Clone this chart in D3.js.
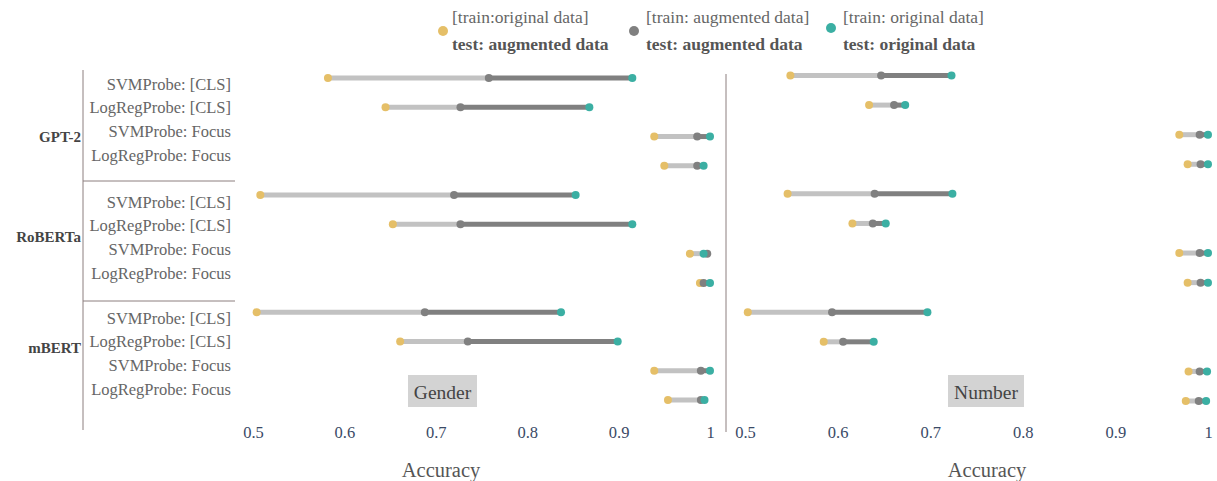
<!DOCTYPE html>
<html><head><meta charset="utf-8">
<script src="https://cdn.jsdelivr.net/npm/d3@7"></script>
<style>body{margin:0;background:#fff}svg{display:block;font-family:"Liberation Serif","Times New Roman",serif}</style>
</head><body><svg id="c" width="1217" height="481"></svg>
<script>
const models = ["GPT-2","RoBERTa","mBERT"];
const probes = ["SVMProbe: [CLS]","LogRegProbe: [CLS]","SVMProbe: Focus","LogRegProbe: Focus"];
const panels = ["Gender","Number"];
const xTicks = [0.5,0.6,0.7,0.8,0.9,1];
const legendTop = ["[train:original data]","[train: augmented data]","[train: original data]"];
const legendBottom = ["test: augmented data","test: augmented data","test: original data"];
// per row (GPT-2 x4, RoBERTa x4, mBERT x4)
const genderOrigAug = [0.582,0.645,0.939,0.950, 0.508,0.653,0.978,0.989, 0.504,0.661,0.939,0.954];
const genderAugAug  = [0.758,0.727,0.986,0.986, 0.720,0.727,0.997,0.993, 0.688,0.735,0.990,0.990];
const genderOrigOrig= [0.915,0.868,1.000,0.993, 0.853,0.915,0.993,1.000, 0.837,0.899,1.000,0.994];
const numberOrigAug = [0.549,0.634,0.969,0.978, 0.546,0.616,0.969,0.978, 0.503,0.585,0.979,0.976];
const numberAugAug  = [0.647,0.661,0.991,0.992, 0.640,0.638,0.991,0.992, 0.594,0.606,0.991,0.990];
const numberOrigOrig= [0.723,0.673,1.000,1.000, 0.724,0.652,1.000,1.000, 0.697,0.639,0.999,0.998];

const C = {y:"#E5BF68", g:"#808080", t:"#3BAFA3", light:"#C2C2C2", dark:"#808080", tick:"#3a4a66", txt:"#555", axis:"#8c7e7e"};
const svg = d3.select("#c");
const rows = [];
models.forEach(m=>probes.forEach(p=>rows.push(m+"|"+p)));

const panelDefs = [
  {name:panels[0], x:[253,710], y:[78,400], a:genderOrigAug, b:genderAugAug, c:genderOrigOrig, box:[408,477], title:441},
  {name:panels[1], x:[745,1208], y:[75.5,401], a:numberOrigAug, b:numberAugAug, c:numberOrigOrig, box:[948,1024], title:987}
];

// left label axis
svg.append("line").attr("x1",83).attr("x2",83).attr("y1",70).attr("y2",430).attr("stroke",C.axis).attr("stroke-width",1);
[181,301].forEach(yy=>svg.append("line").attr("x1",83).attr("x2",235).attr("y1",yy).attr("y2",yy).attr("stroke",C.axis).attr("stroke-width",1));
const groupStart=[84,202,318], groupLabelY=[137,237,348];
models.forEach((m,gi)=>{
  svg.append("text").attr("x",81).attr("y",groupLabelY[gi]).attr("dy","0.35em").attr("text-anchor","end")
    .attr("font-size",15).attr("font-weight","bold").attr("fill","#444").text(m);
  probes.forEach((p,pi)=>{
    svg.append("text").attr("x",231).attr("y",groupStart[gi]+pi*23.6).attr("dy","0.35em").attr("text-anchor","end")
      .attr("font-size",16.5).attr("fill","#666").text(p);
  });
});
// right panel divider
svg.append("line").attr("x1",726).attr("x2",726).attr("y1",74).attr("y2",432).attr("stroke",C.axis).attr("stroke-width",1);

panelDefs.forEach(P=>{
  const x = d3.scaleLinear().domain([0.5,1]).range(P.x);
  const y = d3.scalePoint().domain(rows).range(P.y);
  const g = svg.append("g");
  rows.forEach((r,i)=>{
    const yy=y(r);
    g.append("line").attr("x1",x(P.a[i])).attr("x2",x(P.b[i])).attr("y1",yy).attr("y2",yy).attr("stroke",C.light).attr("stroke-width",5);
    g.append("line").attr("x1",x(P.b[i])).attr("x2",x(P.c[i])).attr("y1",yy).attr("y2",yy).attr("stroke",C.dark).attr("stroke-width",5);
    g.append("circle").attr("cx",x(P.a[i])).attr("cy",yy).attr("r",4).attr("fill",C.y);
    g.append("circle").attr("cx",x(P.b[i])).attr("cy",yy).attr("r",4).attr("fill",C.g);
    g.append("circle").attr("cx",x(P.c[i])).attr("cy",yy).attr("r",4).attr("fill",C.t);
  });
  const ax = svg.append("g").attr("transform","translate(0,423)")
    .call(d3.axisBottom(x).tickValues(xTicks).tickSize(0).tickFormat(d3.format("~g")));
  ax.select(".domain").remove();
  ax.selectAll("text").attr("font-size",16.5).attr("fill",C.tick).attr("font-family","Liberation Serif, serif");
  svg.append("text").attr("x",P.title).attr("y",470).attr("dy","0.35em").attr("text-anchor","middle")
    .attr("font-size",20.5).attr("fill","#555").text("Accuracy");
  svg.append("rect").attr("x",P.box[0]).attr("y",375).attr("width",P.box[1]-P.box[0]).attr("height",32).attr("fill","#d3d3d3");
  svg.append("text").attr("x",(P.box[0]+P.box[1])/2).attr("y",392).attr("dy","0.35em").attr("text-anchor","middle")
    .attr("font-size",19.5).attr("fill","#444").text(P.name);
});

// legend
const legDot=[[443,31],[634,31],[831,28]], legTx=[452,646,843], legCol=[C.y,C.g,C.t];
legendTop.forEach((t,i)=>{
  svg.append("circle").attr("cx",legDot[i][0]).attr("cy",legDot[i][1]).attr("r",5).attr("fill",legCol[i]);
  svg.append("text").attr("x",legTx[i]).attr("y",17).attr("dy","0.35em").attr("font-size",17.5).attr("fill","#666").text(t);
  svg.append("text").attr("x",legTx[i]).attr("y",44).attr("dy","0.35em").attr("font-size",17.5).attr("font-weight","bold").attr("fill","#555").text(legendBottom[i]);
});
</script></body></html>
